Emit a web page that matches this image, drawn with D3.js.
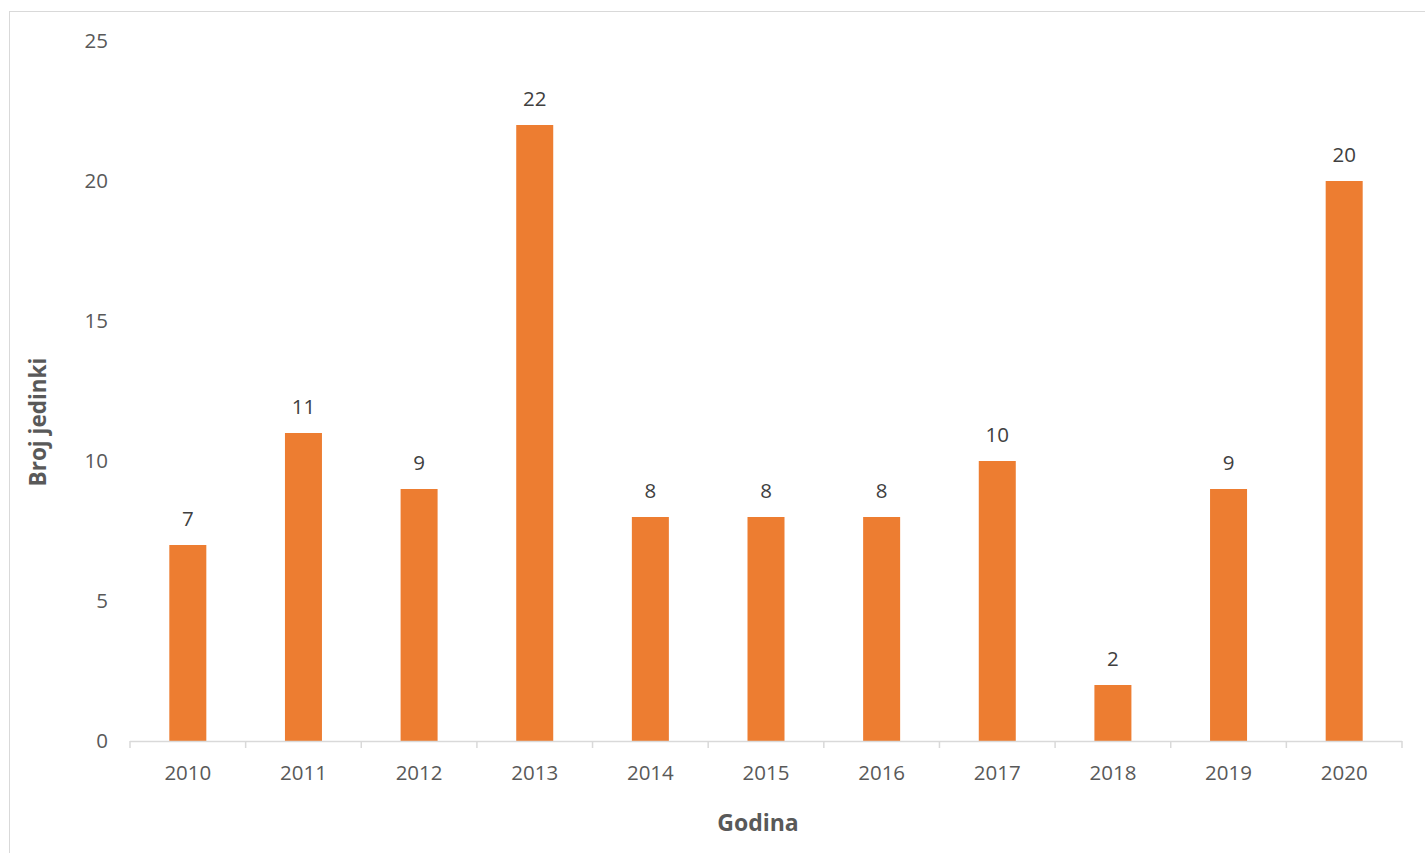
<!DOCTYPE html>
<html>
<head>
<meta charset="utf-8">
<script src="https://cdn.jsdelivr.net/npm/d3@7"></script>
<style>
  html, body { margin: 0; padding: 0; background: #fff; }
  svg { display: block; font-family: "Open Sans", sans-serif; }
</style>
</head>
<body>
<svg id="chart" width="1425" height="853"></svg>
<script>
// Number of individuals per year
const years = ["2010", "2011", "2012", "2013", "2014", "2015", "2016", "2017", "2018", "2019", "2020"];
const counts = [7, 11, 9, 22, 8, 8, 8, 10, 2, 9, 20];
const yTicks = [0, 5, 10, 15, 20, 25];

const svg = d3.select("#chart");

// chart frame
svg.append("rect")
  .attr("x", 9.5).attr("y", 11.5)
  .attr("width", 1440).attr("height", 860)
  .attr("fill", "none").attr("stroke", "#d9d9d9").attr("stroke-width", 1);

const plotLeft = 130, plotRight = 1402, plotTop = 41, plotBottom = 741;

const x = d3.scaleBand().domain(years).range([plotLeft, plotRight]).paddingInner(0.68).paddingOuter(0.34);
const y = d3.scaleLinear().domain([0, 25]).range([plotBottom, plotTop]);

// y tick labels (no axis line, no gridlines)
svg.append("g")
  .selectAll("text")
  .data(yTicks)
  .join("text")
  .attr("x", 108)
  .attr("y", d => y(d))
  .attr("dy", "0.36em")
  .attr("text-anchor", "end")
  .attr("font-size", 20.5)
  .attr("fill", "#595959")
  .text(d => d);

// bars
svg.append("g")
  .selectAll("rect")
  .data(counts)
  .join("rect")
  .attr("x", (d, i) => x(years[i]))
  .attr("y", d => y(d))
  .attr("width", x.bandwidth())
  .attr("height", d => y(0) - y(d))
  .attr("fill", "#ED7D31");

// value labels
svg.append("g")
  .selectAll("text")
  .data(counts)
  .join("text")
  .attr("x", (d, i) => x(years[i]) + x.bandwidth() / 2)
  .attr("y", d => y(d) - 19)
  .attr("text-anchor", "middle")
  .attr("font-size", 20.5)
  .attr("fill", "#404040")
  .text(d => d);

// x axis with ticks between categories
const step = (plotRight - plotLeft) / years.length;
const xAxis = d3.axisBottom(x).tickSize(0).tickPadding(24.5);
const gx = svg.append("g").attr("transform", `translate(0,${plotBottom})`).call(xAxis);
gx.select(".domain").remove();
gx.selectAll("text").attr("font-size", 20.5).attr("fill", "#595959")
  .attr("font-family", "Open Sans, sans-serif");

svg.append("line")
  .attr("x1", plotLeft).attr("x2", plotRight)
  .attr("y1", plotBottom + 0.5).attr("y2", plotBottom + 0.5)
  .attr("stroke", "#d9d9d9").attr("stroke-width", 1.5);

svg.append("g")
  .selectAll("line")
  .data(d3.range(years.length + 1))
  .join("line")
  .attr("x1", i => plotLeft + i * step)
  .attr("x2", i => plotLeft + i * step)
  .attr("y1", plotBottom)
  .attr("y2", plotBottom + 7)
  .attr("stroke", "#d9d9d9").attr("stroke-width", 1.5);

// axis titles
svg.append("text")
  .attr("x", 758)
  .attr("y", 831)
  .attr("text-anchor", "middle")
  .attr("font-size", 23)
  .attr("font-weight", "bold")
  .attr("fill", "#595959")
  .text("Godina");

svg.append("text")
  .attr("transform", "translate(46,422) rotate(-90)")
  .attr("text-anchor", "middle")
  .attr("font-size", 22.5)
  .attr("font-weight", "bold")
  .attr("fill", "#595959")
  .text("Broj jedinki");
</script>
</body>
</html>
